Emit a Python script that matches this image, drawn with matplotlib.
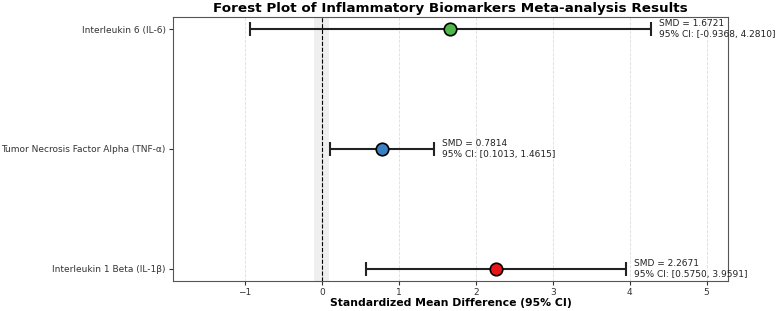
import numpy as np
import matplotlib.pyplot as plt

# donnees
biomarkers = ["Interleukin 1 Beta (IL-1β)",
              "Tumor Necrosis Factor Alpha (TNF-α)",
              "Interleukin 6 (IL-6)"]
smd = [2.2671, 0.7814, 1.6721]
ci_low = [0.5750, 0.1013, -0.9368]
ci_high = [3.9591, 1.4615, 4.2810]
colors = ["#e8161b", "#3a80c3", "#4fb848"]

fig, ax = plt.subplots(figsize=(7.78, 3.11), dpi=100)
fig.subplots_adjust(left=0.222, right=0.936, top=0.945, bottom=0.097)

y = np.arange(len(biomarkers))

ax.axvspan(-0.1, 0.1, color="gray", alpha=0.12, lw=0)
ax.axvline(0, color="black", ls="--", lw=0.8)

for i in range(len(biomarkers)):
    err = [[smd[i] - ci_low[i]], [ci_high[i] - smd[i]]]
    ax.errorbar(smd[i], y[i], xerr=err, fmt="none", ecolor="#222222",
                elinewidth=1.5, capsize=5, capthick=1.5, zorder=2)
    ax.plot(smd[i], y[i], "o", color=colors[i], markeredgecolor="black",
            markersize=9, markeredgewidth=1.2, zorder=3)
    ax.text(ci_high[i] + 0.1, y[i],
            "SMD = %.4f\n95%% CI: [%.4f, %.4f]" % (smd[i], ci_low[i], ci_high[i]),
            va="center", ha="left", fontsize=6.5, color="#222222",
            linespacing=1.3, zorder=4)

ax.set_yticks(y)
ax.set_yticklabels(biomarkers, fontsize=6.5, color="#333333")
ax.set_xlim(min(ci_low) - 1, max(ci_high) + 1)
ax.tick_params(axis="x", labelsize=6.5, colors="#333333", length=3, pad=2)
ax.tick_params(axis="y", colors="#333333", length=3, pad=2)
ax.xaxis.grid(True, ls="--", color="#dddddd", lw=0.6)
ax.set_axisbelow(True)
for s in ax.spines.values():
    s.set_color("#555555")

ax.set_xlabel("Standardized Mean Difference (95% CI)", fontsize=7.8,
              fontweight="bold", labelpad=1)
ax.set_title("Forest Plot of Inflammatory Biomarkers Meta-analysis Results",
             fontsize=9.7, fontweight="bold", pad=4)

plt.savefig("out.png", dpi=100)
